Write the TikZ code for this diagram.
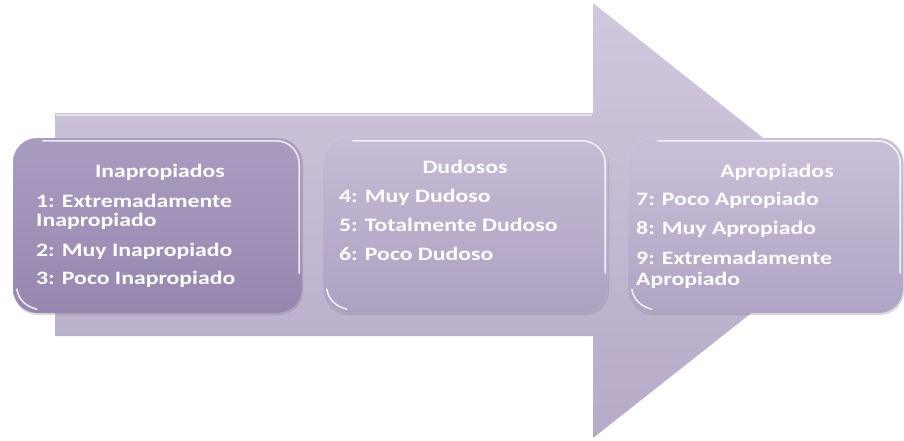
\documentclass[tikz,border=0pt]{standalone}
\usepackage{fontspec}
\setmainfont{Carlito}
\usepackage{graphicx}
\usetikzlibrary{shadows}

\definecolor{arrowtop}{HTML}{D0C9DD}
\definecolor{arrowbot}{HTML}{B6AAC8}
\definecolor{darktop}{HTML}{AA9CC1}
\definecolor{darkbot}{HTML}{9787AF}
\definecolor{midtop}{HTML}{C6BCD5}
\definecolor{midbot}{HTML}{ADA1C2}
\definecolor{lighttop}{HTML}{C9C0D8}
\definecolor{lightbot}{HTML}{AFA4C4}

\newcommand{\wtxt}[1]{\scalebox{1.25}[1]{#1}}
\newcommand{\itemlist}[1]{\wtxt{\begin{tabular}[t]{@{}l@{}}#1\end{tabular}}}

\begin{document}
\begin{tikzpicture}[x=1pt,y=-1pt,
    stage/.style={rectangle,rounded corners=24pt,minimum width=#1,
                  minimum height=175pt,inner sep=0pt,draw=white,draw opacity=.15,
                  drop shadow={shadow xshift=1pt,shadow yshift=-2pt,opacity=.3}},
    lbl/.style={text=white,inner sep=0pt,font=\fontsize{19}{19}\selectfont\bfseries},
    gloss/.style={white,line width=1.6pt,opacity=.8,line cap=round}]

  \useasboundingbox (0,0) rectangle (904,440);

  % big arrow behind the stages
  \path[top color=arrowtop,bottom color=arrowbot]
    (55,113) -- (593,113) -- (593,3) -- (868,221) -- (593,438)
    -- (593,336) -- (55,336) -- cycle;
  \draw[white,opacity=.5,line width=1.5pt] (56,115) -- (592,115);

  % the three stages
  \node[stage=289pt,top color=darktop,bottom color=darkbot]   (inap)  at (157.5,225.5) {};
  \node[stage=285pt,top color=midtop,bottom color=midbot]     (dud)   at (465.5,225.5) {};
  \node[stage=275pt,top color=lighttop,bottom color=lightbot] (aprop) at (765.5,225.5) {};

  \foreach \b in {inap,dud,aprop}{
    \draw[gloss] ([xshift=30pt,yshift=-3pt]\b.north west)
      -- ([xshift=-26pt,yshift=-3pt]\b.north east)
      to[out=0,in=90] ([xshift=-3pt,yshift=-26pt]\b.north east)
      -- ([xshift=-3pt,yshift=40pt]\b.south east);
    \draw[gloss] ([xshift=4pt,yshift=24pt]\b.south west)
      to[out=-80,in=165] ([xshift=24pt,yshift=4pt]\b.south west);
  }

  % headings
  \node[lbl,anchor=base] (inap-head)  at (160,177) {\wtxt{Inapropiados}};
  \node[lbl,anchor=base] (dud-head)   at (465,173) {\wtxt{Dudosos}};
  \node[lbl,anchor=base] (aprop-head) at (777,177) {\wtxt{Apropiados}};

  % scale values
  \node[lbl,anchor=base west] (inap-list) at (36,207)
    {\itemlist{1: Extremadamente\\ Inapropiado\\[11pt] 2: Muy Inapropiado\\[9pt] 3: Poco Inapropiado}};
  \node[lbl,anchor=base west] (dud-list) at (339,202)
    {\itemlist{4: Muy Dudoso\\[10pt] 5: Totalmente Dudoso\\[10pt] 6: Poco Dudoso}};
  \node[lbl,anchor=base west] (aprop-list) at (636,205)
    {\itemlist{7: Poco Apropiado\\[10pt] 8: Muy Apropiado\\[11pt] 9: Extremadamente\\[2pt] Apropiado}};
\end{tikzpicture}
\end{document}
